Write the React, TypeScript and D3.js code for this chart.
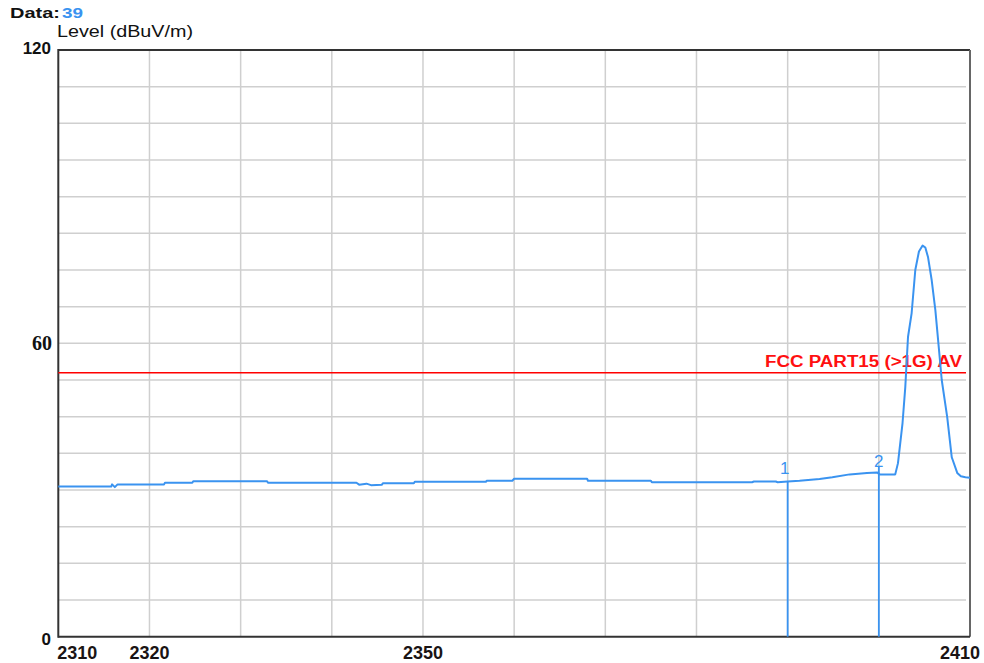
import React from "react";
import * as d3 from "d3";

// ---- data ----
const freqs: number[] = [
  2310.0, 2315.8, 2315.9, 2316.2, 2316.5, 2321.6, 2321.7, 2324.7, 2324.8, 2332.9,
  2333.0, 2342.7, 2343.0, 2343.8, 2344.3, 2345.5, 2345.6, 2349.0, 2349.1, 2356.9,
  2357.0, 2359.8, 2360.0, 2368.0, 2368.1, 2375.0, 2375.1, 2386.1, 2386.3, 2388.7,
  2388.9, 2390.0, 2391.3, 2393.5, 2394.9, 2396.8, 2398.7, 2399.8, 2400.1, 2401.8,
  2402.1, 2402.6, 2402.9, 2403.2, 2403.6, 2404.0, 2404.4, 2404.8, 2405.1, 2405.4,
  2405.8, 2406.2, 2406.5, 2406.9, 2407.5, 2408.0, 2408.6, 2409.0, 2409.5, 2410.0,
];
const levels: number[] = [
  30.7, 30.7, 31.15, 30.6, 31.15, 31.15, 31.5, 31.5, 31.8, 31.8,
  31.5, 31.5, 31.1, 31.3, 31.0, 31.1, 31.4, 31.4, 31.7, 31.7,
  31.9, 31.9, 32.3, 32.3, 31.9, 31.9, 31.6, 31.6, 31.75, 31.75,
  31.6, 31.75, 31.9, 32.25, 32.6, 33.2, 33.5, 33.6, 33.2, 33.2,
  35.5, 43.7, 51.0, 61.3, 66.2, 75.0, 78.8, 80.0, 79.6, 77.6,
  72.9, 66.8, 60.7, 52.5, 44.9, 36.7, 33.5, 32.8, 32.6, 32.5,
];
const limitLevel = 54;
const limitLabel = "FCC PART15 (>1G) AV";
const markerFreqs: number[] = [2390, 2400];
const markerLevels: number[] = [31.75, 33.3];
const markerLabels: string[] = ["1", "2"];
const xTickValues: number[] = [2310, 2320, 2350, 2410];
const yTickValues: number[] = [0, 60, 120];
const dataCount = "39";
const yTitle = "Level (dBuV/m)";

// ---- layout ----
const W = 984;
const H = 663;
const L = 58.3;
const R = 970;
const T = 50;
const B = 636.7;

const SANS = "Arial, 'Liberation Sans', sans-serif";
const SERIF = "'Liberation Serif', 'DejaVu Serif', serif";
const BLUE = "#3a93f0";

export default function App() {
  const x = d3.scaleLinear().domain([2310, 2410]).range([L, R]);
  const y = d3.scaleLinear().domain([0, 120]).range([B, T]);
  const pts = freqs.map((f, i) => [f, levels[i]] as [number, number]);
  const line = d3
    .line<[number, number]>()
    .x((d) => x(d[0]))
    .y((d) => y(d[1]));

  const hGrid = d3.range(7.5, 120, 7.5);
  const vGrid = d3.range(2320, 2410, 10);

  return (
    <svg
      width={W}
      height={H}
      style={{ position: "absolute", left: 0, top: 0, background: "#fff" }}
    >
      <rect x={0} y={0} width={W} height={H} fill="#fff" />
      {/* grid */}
      {hGrid.map((v) => (
        <line key={"h" + v} x1={L} x2={R - 4} y1={y(v)} y2={y(v)} stroke="#cfcfcf" strokeWidth={1.5} />
      ))}
      {vGrid.map((v) => (
        <line key={"v" + v} x1={x(v)} x2={x(v)} y1={T} y2={B} stroke="#cfcfcf" strokeWidth={1.5} />
      ))}
      {/* frame */}
      <line x1={L} x2={R} y1={T} y2={T} stroke="#333" strokeWidth={2} />
      <line x1={R} x2={R} y1={T} y2={B} stroke="#666" strokeWidth={2} />
      <line x1={L} x2={L} y1={T - 1} y2={B + 1} stroke="#333" strokeWidth={2} />
      <line x1={L} x2={R} y1={B} y2={B} stroke="#333" strokeWidth={2} />

      {/* limit line */}
      <line x1={L} x2={R - 4} y1={y(limitLevel)} y2={y(limitLevel)} stroke="#ff0000" strokeWidth={1.6} />
      <text
        x={962}
        y={y(limitLevel) - 5.5}
        textAnchor="end"
        fill="#ff1010"
        fontFamily={SANS}
        fontSize={16}
        fontWeight={700}
        textLength={197}
        lengthAdjust="spacingAndGlyphs"
      >
        {limitLabel}
      </text>

      {/* markers */}
      {markerFreqs.map((f, i) => (
        <g key={"m" + i}>
          <line x1={x(f)} x2={x(f)} y1={y(markerLevels[i]) - (i === 1 ? 8 : 0)} y2={B} stroke={BLUE} strokeWidth={1.8} />
          <text
            x={x(f) - (i === 0 ? 3 : 0)}
            y={y(markerLevels[i]) - 7}
            textAnchor="middle"
            fill={BLUE}
            fontFamily={SANS}
            fontSize={17}
          >
            {markerLabels[i]}
          </text>
        </g>
      ))}

      {/* trace */}
      <path d={line(pts) || ""} fill="none" stroke={BLUE} strokeWidth={2} strokeLinejoin="round" />

      {/* y tick labels */}
      {yTickValues.map((v) => (
        <text
          key={"yt" + v}
          x={v === 60 ? 52 : 51}
          y={y(v) + (v === 120 ? 4 : v === 60 ? 7 : 8)}
          textAnchor="end"
          fill="#111"
          fontFamily={v === 60 ? SERIF : SANS}
          fontSize={v === 60 ? 20 : 17}
          fontWeight={700}
        >
          {v}
        </text>
      ))}

      {/* x tick labels */}
      {xTickValues.map((v, i) => (
        <text
          key={"xt" + v}
          x={i === 0 ? L - 1 : i === xTickValues.length - 1 ? 980 : x(v)}
          y={659}
          textAnchor={i === 0 ? "start" : i === xTickValues.length - 1 ? "end" : "middle"}
          fill="#1a1414"
          fontFamily={SANS}
          fontSize={18}
          fontWeight={700}
        >
          {v}
        </text>
      ))}

      {/* titles */}
      <text x={10} y={18} fontFamily={SANS} fontSize={15} fontWeight={700} fill="#111" textLength={50} lengthAdjust="spacingAndGlyphs">
        Data:
      </text>
      <text x={62} y={18} fontFamily={SANS} fontSize={15} fontWeight={700} fill={BLUE} textLength={21} lengthAdjust="spacingAndGlyphs">
        {dataCount}
      </text>
      <text x={57} y={37} fontFamily={SANS} fontSize={16} fill="#111" textLength={136} lengthAdjust="spacingAndGlyphs">
        {yTitle}
      </text>
    </svg>
  );
}
